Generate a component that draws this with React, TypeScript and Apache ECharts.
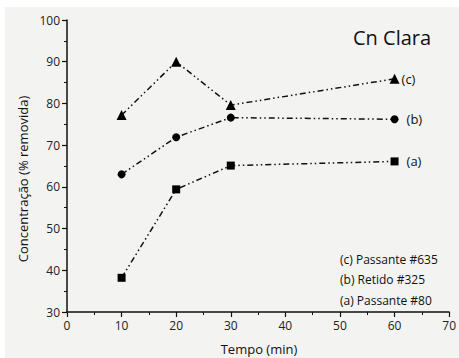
import React, { useEffect, useRef } from "react";
import * as echarts from "echarts";

const times = [10, 20, 30, 60];
const seriesA = [38.2, 59.4, 65.1, 66.1];
const seriesB = [63.0, 71.9, 76.6, 76.2];
const seriesC = [77.2, 90.0, 79.6, 85.9];
const seriesNames = ["(a)", "(b)", "(c)"];
const legendLines = ["(c) Passante #635", "(b) Retido #325", "(a) Passante #80"];
const title = "Cn Clara";
const xName = "Tempo (min)";
const yName = "Concentração (% removida)";

const FONT = "Open Sans";

export default function App() {
  const ref = useRef<HTMLDivElement>(null);
  useEffect(() => {
    document.body.style.margin = "0";
    const chart = echarts.init(ref.current!, null, { renderer: "svg" });
    const mk = (name: string, vals: number[], symbol: string, size: number, labelDx: number) => ({
      type: "line",
      name,
      symbol,
      symbolSize: size,
      itemStyle: { color: "#000" },
      lineStyle: { color: "#111", width: 1.5, type: [6, 3, 1.5, 3, 1.5, 3] },
      data: vals.map((v, i) => {
        const item: any = { value: [times[i], v] };
        if (i === vals.length - 1) {
          item.label = {
            show: true,
            position: "right",
            distance: labelDx,
            formatter: name,
            fontFamily: FONT,
            fontSize: 13,
            color: "#111",
          };
        }
        return item;
      }),
    });
    chart.setOption({
      animation: false,
      backgroundColor: "#fff",
      grid: { left: 67, right: 8, top: 20, bottom: 46 },
      xAxis: {
        type: "value",
        min: 0,
        max: 70,
        interval: 10,
        axisLine: { lineStyle: { color: "#111", width: 1.5 } },
        axisTick: { show: true, inside: false, length: 5, lineStyle: { color: "#111", width: 1.2 } },
        minorTick: { show: true, splitNumber: 2, length: 3, lineStyle: { color: "#111", width: 1 } },
        splitLine: { show: false },
        axisLabel: { fontFamily: FONT, fontSize: 12, color: "#222", margin: 7 },
      },
      yAxis: {
        type: "value",
        min: 30,
        max: 100,
        interval: 10,
        axisLine: { show: true, lineStyle: { color: "#111", width: 1.5 } },
        axisTick: { show: true, inside: false, length: 5, lineStyle: { color: "#111", width: 1.2 } },
        minorTick: { show: true, splitNumber: 2, length: 3, lineStyle: { color: "#111", width: 1 } },
        splitLine: { show: false },
        axisLabel: { fontFamily: FONT, fontSize: 12, color: "#222", margin: 7 },
      },
      graphic: [
        { type: "rect", z: -10, shape: { x: 5, y: 7, width: 454, height: 351 }, style: { fill: "#f3f3f1" }, silent: true },
        { type: "text", x: 353, y: 37, style: { text: title, font: `20px "${FONT}"`, fill: "#111", textVerticalAlign: "middle" } },
        ...legendLines.map((t, i) => ({
          type: "text",
          x: 340,
          y: 259 + i * 20.8,
          style: { text: t, font: `12px "${FONT}"`, fill: "#111", textVerticalAlign: "middle" },
        })),
        { type: "text", x: 259, y: 349, style: { text: xName, font: `13px "${FONT}"`, fill: "#111", textAlign: "center", textVerticalAlign: "middle" } },
        { type: "text", x: 23, y: 179, rotation: Math.PI / 2, style: { text: yName, font: `13px "${FONT}"`, fill: "#111", textAlign: "center", textVerticalAlign: "middle" } },
      ],
      series: [
        mk(seriesNames[0], seriesA, "rect", 8, 8),
        mk(seriesNames[1], seriesB, "circle", 8, 8),
        mk(seriesNames[2], seriesC, "triangle", 10, 2),
      ],
    });
    return () => chart.dispose();
  }, []);
  return <div ref={ref} style={{ width: 459, height: 358 }} />;
}
